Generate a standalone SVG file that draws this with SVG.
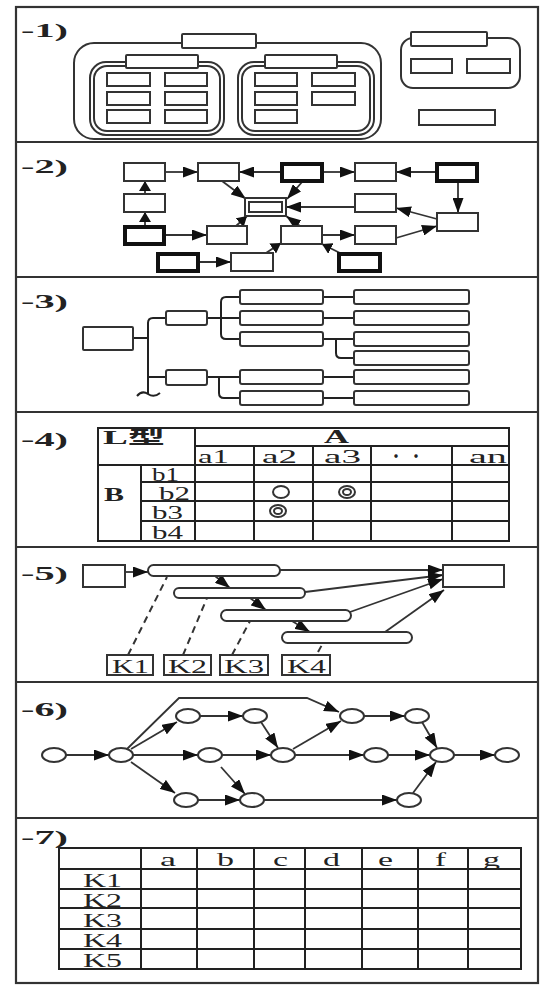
<svg xmlns="http://www.w3.org/2000/svg" width="541" height="986" viewBox="0 0 541 986">
<style>
.frame{fill:none;stroke:#333;stroke-width:2.2}
.f{fill:none;stroke:#333;stroke-width:2}
.b{fill:#fff;stroke:#333;stroke-width:2}
.bt{fill:#fff;stroke:#111;stroke-width:4}
.ln{fill:none;stroke:#333;stroke-width:1.8}
.dash{fill:none;stroke:#333;stroke-width:2;stroke-dasharray:7,5}
.tl{stroke:#222;stroke-width:2;fill:none}
.lbl{font-family:"Liberation Serif",serif;font-weight:bold;font-size:18px;fill:#222}
.tx{font-family:"Liberation Serif","Noto Sans CJK JP",serif;font-size:18px;fill:#222}
.ell{fill:#fff;stroke:#333;stroke-width:2}
</style>
<defs>
<marker id="ah" viewBox="0 0 15 11" refX="15" refY="5.5" markerWidth="15" markerHeight="11" markerUnits="userSpaceOnUse" orient="auto"><path d="M0,0 L15,5.5 L0,11 z" fill="#111"/></marker>
<marker id="ahs" viewBox="0 0 10 12" refX="10" refY="6" markerWidth="10" markerHeight="12" markerUnits="userSpaceOnUse" orient="auto"><path d="M0,0 L10,6 L0,12 z" fill="#111"/></marker>
</defs>
<rect x="0" y="0" width="541" height="986" fill="#fff"/>
<g id="frame">
<rect class="frame" x="16" y="7" width="522" height="976"/>
<line class="frame" x1="16" y1="142" x2="538" y2="142"/>
<line class="frame" x1="16" y1="277" x2="538" y2="277"/>
<line class="frame" x1="16" y1="412" x2="538" y2="412"/>
<line class="frame" x1="16" y1="547" x2="538" y2="547"/>
<line class="frame" x1="16" y1="682" x2="538" y2="682"/>
<line class="frame" x1="16" y1="818" x2="538" y2="818"/>
</g>
<g id="labels">
<text class="lbl" x="21" y="37" textLength="47" lengthAdjust="spacingAndGlyphs">-1)</text>
<text class="lbl" x="21" y="173" textLength="47" lengthAdjust="spacingAndGlyphs">-2)</text>
<text class="lbl" x="21" y="308" textLength="47" lengthAdjust="spacingAndGlyphs">-3)</text>
<text class="lbl" x="21" y="446" textLength="47" lengthAdjust="spacingAndGlyphs">-4)</text>
<text class="lbl" x="21" y="580" textLength="47" lengthAdjust="spacingAndGlyphs">-5)</text>
<text class="lbl" x="21" y="716" textLength="47" lengthAdjust="spacingAndGlyphs">-6)</text>
<text class="lbl" x="21" y="844" textLength="47" lengthAdjust="spacingAndGlyphs">-7)</text>
</g>

<!-- Panel 1 -->
<g id="p1-big"><rect class="f" x="74" y="43" width="307" height="96" rx="20"/><rect class="b" x="182" y="34" width="74" height="14" rx="1"/></g>
<g id="p1-left">
<rect class="f" x="90" y="62" width="134" height="73" rx="16"/>
<rect class="f" x="94" y="66" width="126" height="65" rx="13"/>
<rect class="b" x="126" y="55" width="72" height="13" rx="1"/>
<rect class="b" x="107" y="73" width="43" height="13"/><rect class="b" x="165" y="73" width="42" height="13"/>
<rect class="b" x="107" y="92" width="43" height="13"/><rect class="b" x="165" y="92" width="42" height="13"/>
<rect class="b" x="107" y="110" width="43" height="13"/><rect class="b" x="165" y="110" width="42" height="13"/>
</g>
<g id="p1-right">
<rect class="f" x="238" y="62" width="136" height="73" rx="16"/>
<rect class="f" x="242" y="66" width="128" height="65" rx="13"/>
<rect class="b" x="265" y="55" width="72" height="13" rx="1"/>
<rect class="b" x="255" y="73" width="42" height="13"/><rect class="b" x="312" y="73" width="43" height="13"/>
<rect class="b" x="255" y="92" width="42" height="13"/><rect class="b" x="312" y="92" width="43" height="13"/>
<rect class="b" x="255" y="110" width="42" height="13"/>
</g>
<g id="p1-small">
<rect class="f" x="401" y="38" width="119" height="50" rx="12"/>
<rect class="b" x="411" y="32" width="76" height="14" rx="1"/>
<rect class="b" x="411" y="59" width="41" height="14"/><rect class="b" x="467" y="59" width="43" height="14"/>
</g>
<g id="p1-lone"><rect class="b" x="419" y="110" width="76" height="15"/></g>

<!-- Panel 2 -->
<g id="p2-connectors" class="ln">
<path class="ln" marker-end="url(#ah)" d="M166,172 L198,172"/>
<path class="ln" marker-end="url(#ah)" d="M281,172 L239,172"/>
<path class="ln" marker-end="url(#ah)" d="M323,172 L355,172"/>
<path class="ln" marker-end="url(#ah)" d="M436,172 L396,172"/>
<path class="ln" marker-end="url(#ah)" d="M458,181 L458,213"/>
<path class="ln" marker-end="url(#ahs)" d="M145,194 L145,181"/>
<path class="ln" marker-end="url(#ahs)" d="M145,226 L145,212"/>
<path class="ln" marker-end="url(#ah)" d="M222,181 L246,199"/>
<path class="ln" marker-end="url(#ah)" d="M303,181 L287,199"/>
<path class="ln" marker-end="url(#ah)" d="M355,207 L286,207"/>
<path class="ln" marker-end="url(#ah)" d="M437,219 L396,208"/>
<path class="ln" marker-end="url(#ah)" d="M300,226 L286,216"/>
<path class="ln" marker-end="url(#ahs)" d="M236,226 L247,216"/>
<path class="ln" marker-end="url(#ah)" d="M165,235 L207,235"/>
<path class="ln" marker-end="url(#ah)" d="M322,235 L355,235"/>
<path class="ln" marker-end="url(#ah)" d="M396,238 L437,226"/>
<path class="ln" marker-end="url(#ah)" d="M198,262 L231,262"/>
<path class="ln" marker-end="url(#ahs)" d="M266,253 L281,243"/>
<path class="ln" marker-end="url(#ahs)" d="M340,253 L322,244"/>
</g>
<g id="p2-A"><rect class="b" x="124" y="163" width="41" height="18"/></g>
<g id="p2-B"><rect class="b" x="198" y="163" width="41" height="18"/></g>
<g id="p2-C"><rect class="bt" x="282" y="164" width="40" height="17"/></g>
<g id="p2-D"><rect class="b" x="355" y="163" width="41" height="18"/></g>
<g id="p2-E"><rect class="bt" x="437" y="164" width="40" height="17"/></g>
<g id="p2-F"><rect class="b" x="124" y="194" width="41" height="18"/></g>
<g id="p2-G"><rect class="b" x="245" y="198" width="41" height="18"/><rect class="f" x="249" y="202" width="33" height="10"/></g>
<g id="p2-H"><rect class="b" x="355" y="194" width="41" height="18"/></g>
<g id="p2-I"><rect class="b" x="437" y="213" width="41" height="18"/></g>
<g id="p2-J"><rect class="bt" x="125" y="227" width="39" height="17"/></g>
<g id="p2-K"><rect class="b" x="207" y="226" width="40" height="18"/></g>
<g id="p2-L"><rect class="b" x="281" y="226" width="41" height="18"/></g>
<g id="p2-M"><rect class="b" x="355" y="226" width="41" height="18"/></g>
<g id="p2-N"><rect class="bt" x="158" y="254" width="40" height="17"/></g>
<g id="p2-O"><rect class="b" x="231" y="253" width="42" height="18"/></g>
<g id="p2-P"><rect class="bt" x="339" y="254" width="41" height="17"/></g>

<!-- Panel 3 -->
<g id="p3-connectors" class="tl">
<path class="tl" d="M133,338 L148,338"/>
<path class="tl" d="M166,318 L153,318 Q148,318 148,323 L148,394"/>
<path class="tl" d="M137,396 Q142,390 148,394 Q154,398 160,393"/>
<path class="tl" d="M148,377 L166,377"/>
<path class="tl" d="M207,318 L240,318"/>
<path class="tl" d="M240,297 L226,297 Q221,297 221,302 L221,334 Q221,339 226,339 L240,339"/>
<path class="tl" d="M207,377 L240,377"/>
<path class="tl" d="M219,377 L219,393 Q219,398 224,398 L240,398"/>
<path class="tl" d="M323,297 L354,297 M323,318 L354,318 M323,339 L354,339 M323,377 L354,377 M323,398 L354,398"/>
<path class="tl" d="M336,339 L336,353 Q336,358 341,358 L354,358"/>
</g>
<g id="p3-root"><rect class="b" x="83" y="327" width="50" height="23" rx="1"/></g>
<g id="p3-b1"><rect class="b" x="166" y="311" width="41" height="14" rx="2"/></g>
<g id="p3-b2"><rect class="b" x="166" y="370" width="41" height="15" rx="2"/></g>
<g id="p3-leaves">
<rect class="b" x="240" y="290" width="83" height="14" rx="2"/>
<rect class="b" x="240" y="311" width="83" height="14" rx="2"/>
<rect class="b" x="240" y="332" width="83" height="14" rx="2"/>
<rect class="b" x="240" y="370" width="83" height="14" rx="2"/>
<rect class="b" x="240" y="391" width="83" height="14" rx="2"/>
</g>
<g id="p3-right">
<rect class="b" x="354" y="290" width="115" height="14" rx="2"/>
<rect class="b" x="354" y="311" width="115" height="14" rx="2"/>
<rect class="b" x="354" y="332" width="115" height="14" rx="2"/>
<rect class="b" x="354" y="351" width="115" height="14" rx="2"/>
<rect class="b" x="354" y="370" width="115" height="14" rx="2"/>
<rect class="b" x="354" y="391" width="115" height="14" rx="2"/>
</g>

<!-- Panel 4 -->
<g id="p4-table">
<rect class="tl" x="98" y="428" width="411" height="113"/>
<path class="tl" d="M195,446 L509,446 M98,465 L509,465 M141,482 L509,482 M141,501 L509,501 M141,521 L509,521"/>
<path class="tl" d="M195,428 L195,541 M141,465 L141,541 M254,446 L254,541 M313,446 L313,541 M371,446 L371,541 M452,446 L452,541"/>
<text class="tx" x="103" y="444" font-weight="bold" textLength="62" lengthAdjust="spacingAndGlyphs">L型</text>
<text class="tx" x="324" y="443" font-weight="bold" font-size="17" textLength="25" lengthAdjust="spacingAndGlyphs">A</text>
<text class="tx" x="198" y="463" font-size="17" textLength="31" lengthAdjust="spacingAndGlyphs">a1</text>
<text class="tx" x="262" y="463" font-size="17" textLength="35" lengthAdjust="spacingAndGlyphs">a2</text>
<text class="tx" x="324" y="463" font-size="17" textLength="37" lengthAdjust="spacingAndGlyphs">a3</text>
<text class="tx" x="388" y="463" font-size="17" textLength="36" lengthAdjust="spacingAndGlyphs">・ ・</text>
<text class="tx" x="469" y="463" font-size="17" textLength="38" lengthAdjust="spacingAndGlyphs">an</text>
<text class="tx" x="104" y="501" font-weight="bold" font-size="20" textLength="20" lengthAdjust="spacingAndGlyphs">B</text>
<text class="tx" x="152" y="481" textLength="27" lengthAdjust="spacingAndGlyphs">b1</text>
<text class="tx" x="159" y="500" textLength="31" lengthAdjust="spacingAndGlyphs">b2</text>
<text class="tx" x="152" y="519" textLength="31" lengthAdjust="spacingAndGlyphs">b3</text>
<text class="tx" x="152" y="539" textLength="31" lengthAdjust="spacingAndGlyphs">b4</text>
<ellipse class="ell" cx="281" cy="492" rx="8" ry="6"/>
<ellipse class="ell" cx="347" cy="492" rx="8" ry="6"/><ellipse class="ell" cx="347" cy="492" rx="4" ry="3"/>
<ellipse class="ell" cx="278" cy="511" rx="8" ry="6"/><ellipse class="ell" cx="278" cy="511" rx="4" ry="3"/>
</g>

<!-- Panel 5 -->
<g id="p5-connectors">
<path class="ln" marker-end="url(#ah)" d="M125,572 L148,572"/>
<path class="ln" marker-end="url(#ah)" d="M280,570 L443,570"/>
<path class="ln" marker-end="url(#ah)" d="M305,592 L443,575"/>
<path class="ln" marker-end="url(#ah)" d="M350,612 L443,579"/>
<path class="ln" marker-end="url(#ah)" d="M385,632 L444,590"/>
<path class="ln" marker-end="url(#ah)" d="M215,576 L230,588"/>
<path class="ln" marker-end="url(#ah)" d="M250,598 L266,610"/>
<path class="ln" marker-end="url(#ah)" d="M292,621 L310,632"/>
<path class="dash" d="M128,655 L167,577"/>
<path class="dash" d="M183,655 L207,598"/>
<path class="dash" d="M232,655 L250,621"/>
<path class="dash" d="M318,652 L323,643"/>
</g>
<g id="p5-start"><rect class="b" x="83" y="565" width="42" height="22"/></g>
<g id="p5-bar1"><rect class="b" x="148" y="565" width="132" height="11" rx="5.5"/></g>
<g id="p5-bar2"><rect class="b" x="174" y="588" width="131" height="10" rx="5"/></g>
<g id="p5-bar3"><rect class="b" x="221" y="610" width="130" height="11" rx="5.5"/></g>
<g id="p5-bar4"><rect class="b" x="282" y="632" width="130" height="11" rx="5.5"/></g>
<g id="p5-end"><rect class="b" x="443" y="565" width="61" height="22"/></g>
<g id="p5-K1"><rect class="b" x="107" y="655" width="46" height="20"/><text class="tx" x="112" y="673" font-size="19" textLength="37" lengthAdjust="spacingAndGlyphs">K1</text></g>
<g id="p5-K2"><rect class="b" x="164" y="655" width="47" height="20"/><text class="tx" x="168" y="673" font-size="19" textLength="39" lengthAdjust="spacingAndGlyphs">K2</text></g>
<g id="p5-K3"><rect class="b" x="220" y="655" width="48" height="20"/><text class="tx" x="224" y="673" font-size="19" textLength="40" lengthAdjust="spacingAndGlyphs">K3</text></g>
<g id="p5-K4"><rect class="b" x="282" y="655" width="48" height="20"/><text class="tx" x="287" y="673" font-size="19" textLength="39" lengthAdjust="spacingAndGlyphs">K4</text></g>

<!-- Panel 6 -->
<g id="p6-connectors">
<path class="ln" marker-end="url(#ah)" d="M66,755 L109,755"/>
<path class="ln" marker-end="url(#ah)" d="M131,749 L177,722"/>
<path class="ln" marker-end="url(#ah)" d="M133,755 L198,755"/>
<path class="ln" marker-end="url(#ah)" d="M131,762 L175,793"/>
<path class="ln" marker-end="url(#ah)" d="M127,749 L179,698 L307,698 L339,712"/>
<path class="ln" marker-end="url(#ah)" d="M200,716 L243,716"/>
<path class="ln" marker-end="url(#ah)" d="M261,722 L278,748"/>
<path class="ln" marker-end="url(#ah)" d="M222,755 L271,755"/>
<path class="ln" marker-end="url(#ah)" d="M221,767 L245,794"/>
<path class="ln" marker-end="url(#ah)" d="M293,749 L341,721"/>
<path class="ln" marker-end="url(#ah)" d="M295,755 L364,755"/>
<path class="ln" marker-end="url(#ah)" d="M198,800 L240,800"/>
<path class="ln" marker-end="url(#ah)" d="M264,800 L397,800"/>
<path class="ln" marker-end="url(#ah)" d="M364,716 L405,716"/>
<path class="ln" marker-end="url(#ah)" d="M422,722 L437,748"/>
<path class="ln" marker-end="url(#ah)" d="M388,755 L430,755"/>
<path class="ln" marker-end="url(#ah)" d="M454,755 L495,755"/>
<path class="ln" marker-end="url(#ah)" d="M413,793 L436,762"/>
</g>
<g id="p6-n1"><ellipse class="ell" cx="54" cy="755" rx="12" ry="7"/></g>
<g id="p6-n2"><ellipse class="ell" cx="121" cy="755" rx="12" ry="7"/></g>
<g id="p6-n3"><ellipse class="ell" cx="188" cy="716" rx="12" ry="7"/></g>
<g id="p6-n4"><ellipse class="ell" cx="255" cy="716" rx="12" ry="7"/></g>
<g id="p6-n5"><ellipse class="ell" cx="210" cy="755" rx="12" ry="7"/></g>
<g id="p6-n6"><ellipse class="ell" cx="283" cy="755" rx="12" ry="7"/></g>
<g id="p6-n7"><ellipse class="ell" cx="186" cy="800" rx="12" ry="7"/></g>
<g id="p6-n8"><ellipse class="ell" cx="252" cy="800" rx="12" ry="7"/></g>
<g id="p6-n9"><ellipse class="ell" cx="352" cy="716" rx="12" ry="7"/></g>
<g id="p6-n10"><ellipse class="ell" cx="417" cy="716" rx="12" ry="7"/></g>
<g id="p6-n11"><ellipse class="ell" cx="376" cy="755" rx="12" ry="7"/></g>
<g id="p6-n12"><ellipse class="ell" cx="442" cy="755" rx="12" ry="7"/></g>
<g id="p6-n13"><ellipse class="ell" cx="507" cy="755" rx="12" ry="7"/></g>
<g id="p6-n14"><ellipse class="ell" cx="409" cy="800" rx="12" ry="7"/></g>

<!-- Panel 7 -->
<g id="p7-table">
<rect class="tl" x="59" y="848" width="462" height="121"/>
<path class="tl" d="M59,869 L521,869 M59,889 L521,889 M59,908 L521,908 M59,929 L521,929 M59,949 L521,949"/>
<path class="tl" d="M141,848 L141,969 M197,848 L197,969 M254,848 L254,969 M305,848 L305,969 M362,848 L362,969 M418,848 L418,969 M468,848 L468,969"/>
<text class="tx" x="160" y="866" font-size="20" textLength="16" lengthAdjust="spacingAndGlyphs">a</text>
<text class="tx" x="217" y="866" font-size="20" textLength="17" lengthAdjust="spacingAndGlyphs">b</text>
<text class="tx" x="273" y="866" font-size="20" textLength="15" lengthAdjust="spacingAndGlyphs">c</text>
<text class="tx" x="323" y="866" font-size="20" textLength="17" lengthAdjust="spacingAndGlyphs">d</text>
<text class="tx" x="378" y="866" font-size="20" textLength="15" lengthAdjust="spacingAndGlyphs">e</text>
<text class="tx" x="435" y="866" font-size="20" textLength="11" lengthAdjust="spacingAndGlyphs">f</text>
<text class="tx" x="483" y="866" font-size="20" textLength="17" lengthAdjust="spacingAndGlyphs">g</text>
<text class="tx" x="83" y="887" font-size="20" textLength="39" lengthAdjust="spacingAndGlyphs">K1</text>
<text class="tx" x="83" y="907" font-size="20" textLength="39" lengthAdjust="spacingAndGlyphs">K2</text>
<text class="tx" x="83" y="927" font-size="20" textLength="39" lengthAdjust="spacingAndGlyphs">K3</text>
<text class="tx" x="83" y="947" font-size="20" textLength="39" lengthAdjust="spacingAndGlyphs">K4</text>
<text class="tx" x="83" y="967" font-size="20" textLength="39" lengthAdjust="spacingAndGlyphs">K5</text>
</g>
</svg>
